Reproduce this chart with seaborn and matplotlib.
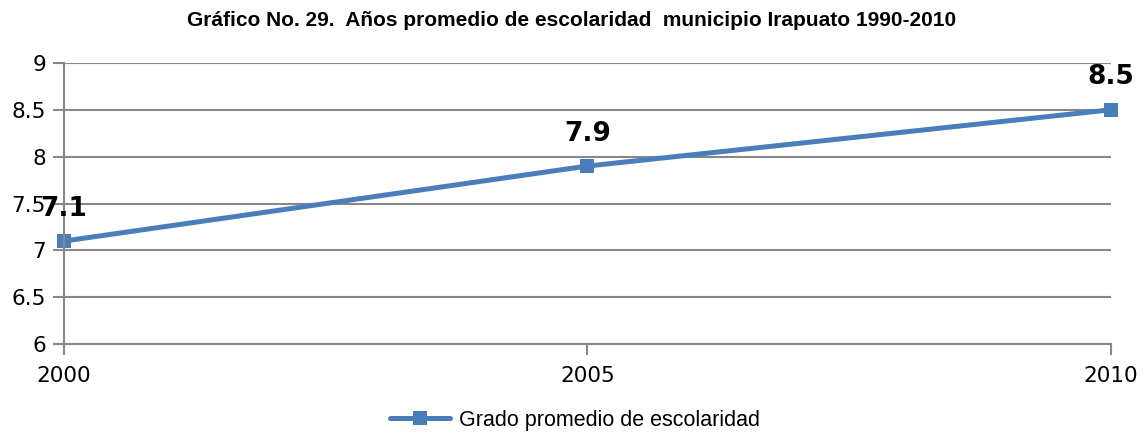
import pandas as pd
import seaborn as sns
import matplotlib.pyplot as plt

# datos del gráfico
anios = [2000, 2005, 2010]
escolaridad = [7.1, 7.9, 8.5]
serie = "Grado promedio de escolaridad"
titulo = "Gráfico No. 29.  Años promedio de escolaridad  municipio Irapuato 1990-2010"

df = pd.DataFrame({"Año": anios, "Escolaridad": escolaridad, "Serie": serie})

sns.set_style("white")
plt.rcParams["font.family"] = ["DejaVu Sans"]
plt.rcParams["text.color"] = "black"
plt.rcParams["xtick.color"] = "black"
plt.rcParams["ytick.color"] = "black"

fig = plt.figure(figsize=(11.44, 4.34), dpi=100)
ax = fig.add_axes([0.056, 0.207, 0.915, 0.648])

azul = "#4A7EBB"
gris = "#888888"
sns.lineplot(data=df, x="Año", y="Escolaridad", hue="Serie", palette=[azul],
             marker="s", markersize=10, markeredgewidth=0, linewidth=3.6,
             ax=ax, clip_on=False)

ax.set_xlim(2000, 2010)
ax.set_ylim(6, 9)
ax.set_xticks(anios)
ax.set_yticks([6, 6.5, 7, 7.5, 8, 8.5, 9])
ax.set_yticklabels(["6", "6.5", "7", "7.5", "8", "8.5", "9"])
ax.set_xlabel("")
ax.set_ylabel("")
ax.grid(axis="y", color=gris, linewidth=1.5)
ax.set_axisbelow(True)
for s in ["top", "right"]:
    ax.spines[s].set_visible(False)
for s in ["left", "bottom"]:
    ax.spines[s].set_color(gris)
    ax.spines[s].set_linewidth(1.5)
ax.tick_params(axis="both", direction="out", color=gris, width=1.5,
               length=8, labelsize=15.5, labelcolor="black",
               bottom=True, left=True)
ax.tick_params(axis="y", pad=5)
ax.tick_params(axis="x", pad=8)

for x, y in zip(anios, escolaridad):
    ax.annotate(f"{y}", (x, y), xytext=(0, 14), textcoords="offset points",
                ha="center", va="bottom", fontsize=19, fontweight="bold",
                color="black")

fig.text(0.5, 0.952, titulo, ha="center", va="center", fontsize=15,
         fontweight="bold", family="Liberation Sans", color="black")

ax.legend(loc="center", bbox_to_anchor=(0.488, -0.27), frameon=False,
          prop={"family": "Liberation Sans", "size": 15.5},
          handlelength=2.8, handletextpad=0.4)

fig.savefig("out.png", dpi=100)
